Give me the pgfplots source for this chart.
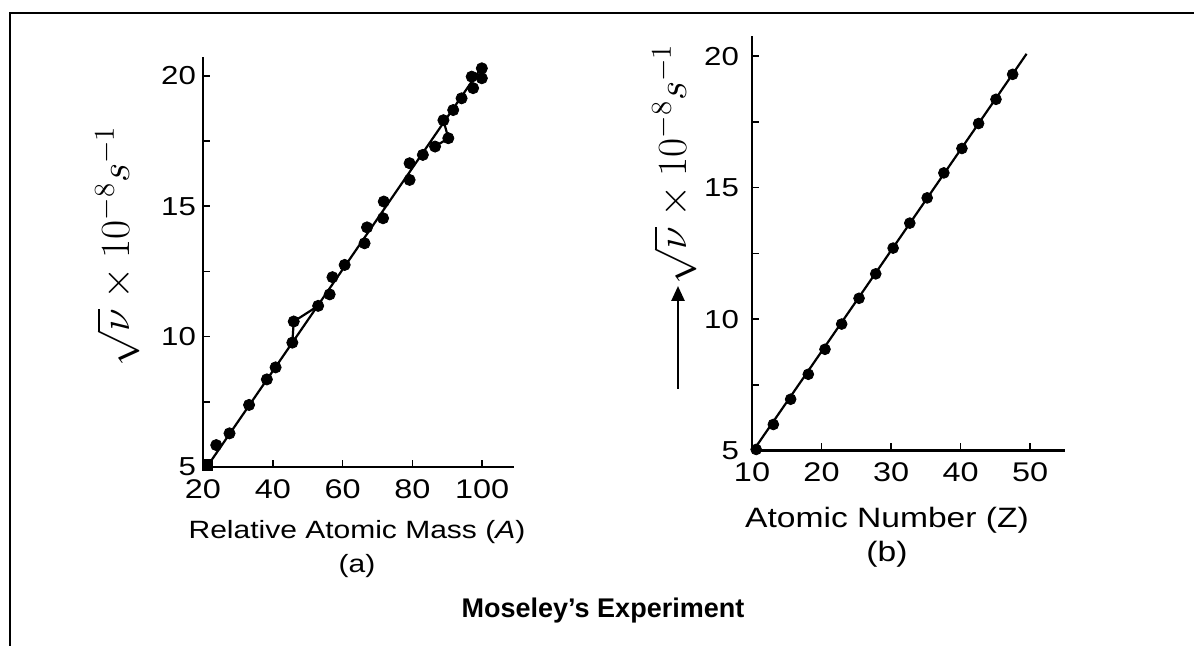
\documentclass[border=0pt]{standalone}
\usepackage{pgfplots}
\pgfplotsset{compat=1.18}
\usepackage[no-math]{fontspec}
\setmainfont{Liberation Sans}[FakeStretch=1.2]
\newfontfamily\plainsans{Liberation Sans}
\usetikzlibrary{arrows.meta}
\newcommand\fs[1]{\fontsize{#1}{#1}\selectfont}

\pgfplotsset{
  moseley/.style={
    scale only axis,
    anchor=south west,
    axis lines*=left,
    axis line style={line width=1.2pt},
    tick align=inside,
    major tick length=3.5pt,
    minor tick length=3.5pt,
    tick style={line width=0.8pt, black},
    ytick={5,10,15,20},
    minor ytick={7.5,12.5,17.5},
    /pgf/number format/assume math mode=true,
    clip=false,
  },
}

\begin{document}
\begin{tikzpicture}[x=1pt,y=1pt]
\useasboundingbox (0,0) rectangle (597,323);
\draw[line width=1pt] (5,0) -- (5,316.5) -- (597,316.5);

% (a) relative atomic mass
\begin{axis}[moseley,
  at={(101.5pt,89.5pt)},
  width=155.3pt, height=205.2pt,
  xmin=20, xmax=109, ymin=5, ymax=20.74,
  xtick={20,40,...,100},
  xticklabel style={font=\fs{13.5}, yshift=-3pt},
  yticklabel style={font=\fs{13}},
]
  % straight line
  \addplot[black, line width=1.1pt] coordinates {(21.1,5) (100.2,20.4)};
  % detours
  \addplot[black, line width=1.1pt] coordinates {(45.6,9.77) (46.0,10.58) (53.0,11.18)};
  \addplot[black, line width=1.1pt] coordinates {(86.5,17.29) (90.3,17.61) (88.9,18.30)};
  \addplot[only marks, mark=square*, mark size=2.6pt, black] coordinates {(21.3,5.08)};
  \addplot[only marks, mark=*, mark size=2.8pt, black] coordinates {
    (23.8,5.84) (27.6,6.29) (33.2,7.38) (38.3,8.36) (40.8,8.82)
    (45.6,9.77) (46.0,10.58) (53.0,11.18) (56.3,11.62) (57.1,12.28)
    (60.6,12.75) (66.3,13.58) (67.0,14.19) (71.6,14.54) (71.8,15.18)
    (79.2,16.01) (79.2,16.65) (83.0,16.97) (86.5,17.29) (90.3,17.61)
    (88.9,18.30) (91.7,18.69) (94.1,19.14) (97.4,19.53) (97.0,19.97)
    (99.9,19.91) (99.9,20.29)
  };
\end{axis}

% (b) atomic number
\begin{axis}[moseley,
  at={(376pt,97.75pt)},
  width=156.4pt, height=207pt,
  xmin=10, xmax=55, ymin=5, ymax=20.75,
  xtick={10,20,...,50},
  xticklabel style={font=\fs{13.5}, yshift=-2.5pt},
  yticklabel style={font=\fs{13}, xshift=-3pt},
]
  \addplot[black, line width=1.1pt] coordinates {(10.2,5) (49.5,20.09)};
  \addplot[only marks, mark=*, mark size=2.7pt, black] coordinates {
    (10.6,5.04) (13.07,5.99) (15.56,6.95) (18.1,7.90) (20.5,8.85)
    (22.9,9.81) (25.4,10.79) (27.8,11.72) (30.3,12.70) (32.7,13.65)
    (35.2,14.61) (37.6,15.56) (40.2,16.49) (42.6,17.44) (45.1,18.36)
    (47.5,19.31)
  };
\end{axis}

% y labels
\node[rotate=90, anchor=base, font=\fs{19.5}] at (64.5,200) {$\sqrt{\nu}\times10^{-8}s^{-1}$};
\node[rotate=90, anchor=base, font=\fs{19.5}] at (343,241) {$\sqrt{\nu}\times10^{-8}s^{-1}$};
\draw[line width=1.3pt, -{Triangle[width=6.5pt,length=7.5pt]}] (339,128.5) -- (339,180);

% x labels and title
\node[anchor=base, font=\fs{12.5}] at (178.5,53.5) {Relative Atomic Mass (\textit{A})};
\node[anchor=base, font=\fs{12.5}] at (178.5,36.5) {(a)};
\node[anchor=base, font=\fs{14}] at (443.5,59) {Atomic Number (Z)};
\node[anchor=base, font=\fs{14}] at (443.5,42) {(b)};
\node[anchor=base, font=\plainsans\bfseries\fs{13.5}] at (301.5,14) {Moseley’s Experiment};
\end{tikzpicture}
\end{document}
